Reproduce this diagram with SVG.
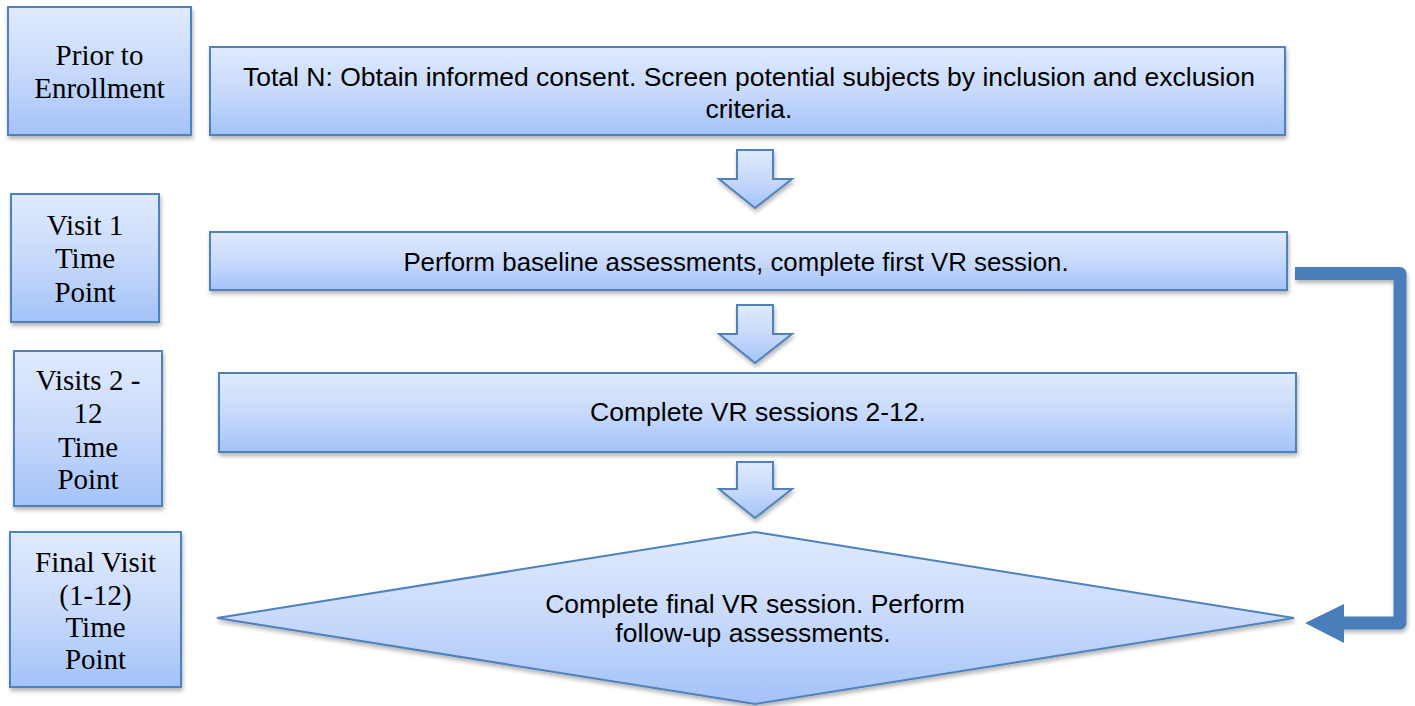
<svg xmlns="http://www.w3.org/2000/svg" width="1415" height="706" viewBox="0 0 1415 706">
  <style>
    .box { stroke: #4f81bd; stroke-width: 2; fill: url(#blueFill); filter: url(#shadow); }
    .arrow { stroke: #4f81bd; stroke-width: 2; fill: url(#blueFill); filter: url(#shadow); stroke-linejoin: miter; }
    .label { font-family: "Liberation Serif", "Times New Roman", serif; font-size: 29px; fill: #000; text-anchor: middle; }
    .body { font-family: "Liberation Sans", Arial, sans-serif; font-size: 26.5px; fill: #000; text-anchor: middle; }
    .loop { fill: none; stroke: #4a7ebb; stroke-width: 13; stroke-linejoin: round; filter: url(#shadow); }
  </style>
  <defs>
    <linearGradient id="blueFill" x1="0" y1="0" x2="0" y2="1">
      <stop offset="0" stop-color="#dfeafd"/>
      <stop offset="0.5" stop-color="#c8dafb"/>
      <stop offset="1" stop-color="#a3c2f8"/>
    </linearGradient>
    <filter id="shadow" x="-10%" y="-10%" width="120%" height="130%">
      <feGaussianBlur in="SourceAlpha" stdDeviation="2"/>
      <feOffset dx="1" dy="3" result="off"/>
      <feComponentTransfer><feFuncA type="linear" slope="0.3"/></feComponentTransfer>
      <feMerge><feMergeNode/><feMergeNode in="SourceGraphic"/></feMerge>
    </filter>
  </defs>
  <rect width="1415" height="706" fill="#ffffff"/>

  <!-- time point labels -->
  <g id="label-prior">
    <rect class="box" x="8" y="7" width="183" height="128"/>
    <text class="label" x="99.5" y="65">Prior to</text>
    <text class="label" x="99.5" y="98">Enrollment</text>
  </g>
  <g id="label-visit1">
    <rect class="box" x="11" y="194" width="148" height="128"/>
    <text class="label" x="85" y="235">Visit 1</text>
    <text class="label" x="85" y="268">Time</text>
    <text class="label" x="85" y="302">Point</text>
  </g>
  <g id="label-visits2-12">
    <rect class="box" x="14" y="351" width="148" height="155"/>
    <text class="label" x="88" y="390">Visits 2 -</text>
    <text class="label" x="88" y="423">12</text>
    <text class="label" x="88" y="457">Time</text>
    <text class="label" x="88" y="489">Point</text>
  </g>
  <g id="label-final">
    <rect class="box" x="10" y="532" width="171" height="155"/>
    <text class="label" x="95.5" y="572">Final Visit</text>
    <text class="label" x="95.5" y="605">(1-12)</text>
    <text class="label" x="95.5" y="637">Time</text>
    <text class="label" x="95.5" y="669">Point</text>
  </g>

  <!-- process steps -->
  <g id="step-consent">
    <rect class="box" x="210" y="47" width="1075" height="88"/>
    <text class="body" x="749" y="86">Total N: Obtain informed consent. Screen potential subjects by inclusion and exclusion</text>
    <text class="body" x="749" y="118">criteria.</text>
  </g>
  <g id="step-baseline">
    <rect class="box" x="210" y="232" width="1077" height="58"/>
    <text class="body" x="736" y="271" style="font-size:25.8px">Perform baseline assessments, complete first VR session.</text>
  </g>
  <g id="step-sessions">
    <rect class="box" x="219" y="373" width="1077" height="79"/>
    <text class="body" x="758" y="421">Complete VR sessions 2-12.</text>
  </g>
  <g id="step-final">
    <polygon class="box" points="755,532 1294,618 755,704 217,618"/>
    <text class="body" x="755" y="613">Complete final VR session. Perform</text>
    <text class="body" x="753" y="642">follow-up assessments.</text>
  </g>

  <!-- connectors -->
  <g id="connectors">
    <polygon class="arrow" points="737,150 773,150 773,179 792,179 755,208 719,179 737,179"/>
    <polygon class="arrow" points="737,305 773,305 773,334 792,334 755,363 719,334 737,334"/>
    <polygon class="arrow" points="737,462 773,462 773,489 792,489 755,518 719,489 737,489"/>
    <path class="loop" d="M1295,273.5 H1400 V623 H1340"/>
    <polygon points="1305,623 1344,604 1344,643" fill="#4a7ebb"/>
  </g>
</svg>
